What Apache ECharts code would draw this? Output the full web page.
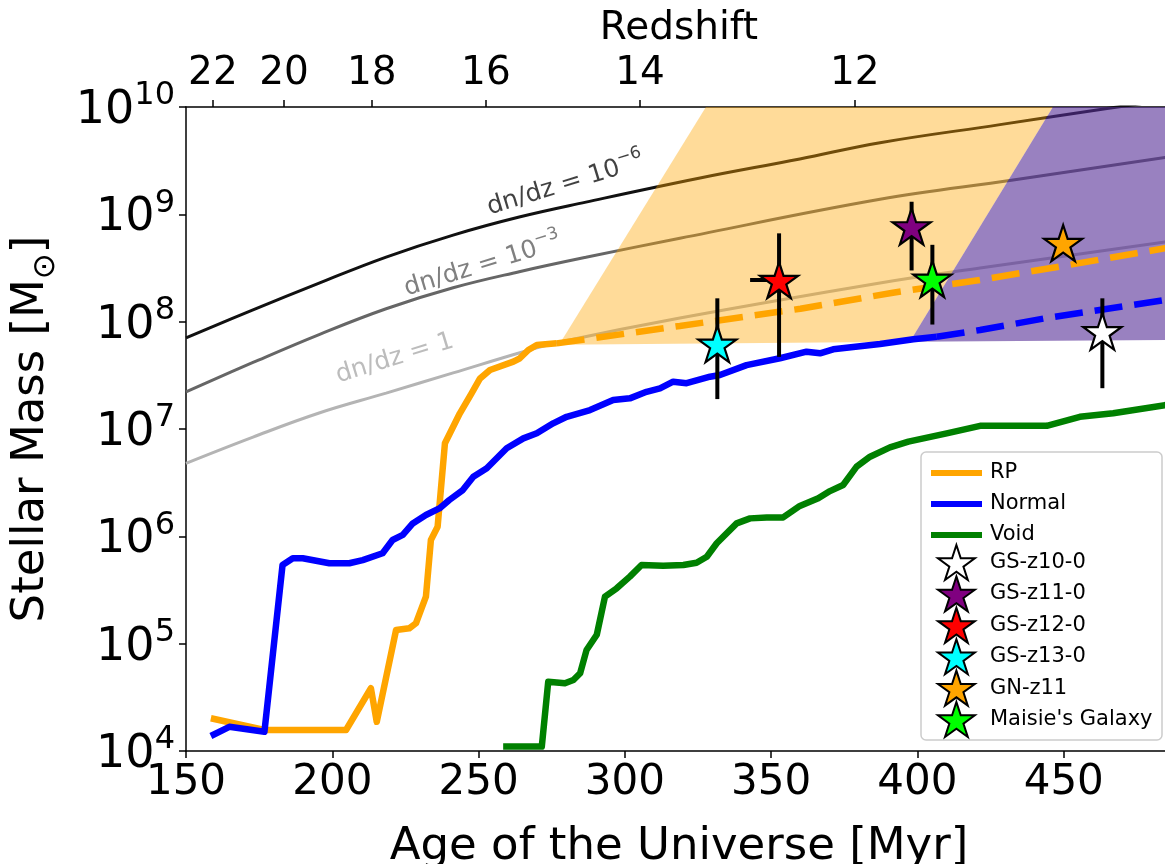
<!DOCTYPE html>
<html><head><meta charset="utf-8">
<script src="https://cdn.jsdelivr.net/npm/echarts@6/dist/echarts.min.js"></script>
<style>html,body{margin:0;padding:0;background:#fff}#c{width:1165px;height:864px}</style>
</head><body><div id="c"></div>
<script>
// ---- axis ticks ----
const ageTicks = [150, 200, 250, 300, 350, 400, 450];
const redshiftTicks = [22, 20, 18, 16, 14, 12];
const redshiftAges = [159.2, 183.5, 213.5, 252.5, 305.2, 378.6];

// ---- dn/dz curves ----
const dndz6Age  = [150, 172.9, 195.5, 218.4, 241.3, 263.9, 286.7, 325.7, 359.8, 387.2, 428.2, 464.8, 500];
const dndz6Mass = [7.05e7, 1.29e8, 2.29e8, 4.0e8, 6.41e8, 9.44e8, 1.30e9, 2.18e9, 3.28e9, 4.65e9, 6.85e9, 9.7e9, 1.32e10];
const dndz3Age  = [150, 172.9, 195.5, 218.4, 241.3, 263.9, 286.7, 318.8, 387.2, 432.7, 484.6, 500];
const dndz3Mass = [2.22e7, 4.17e7, 7.59e7, 1.32e8, 2.07e8, 2.92e8, 3.98e8, 5.98e8, 1.38e9, 2.09e9, 3.39e9, 3.89e9];
const dndz1Age  = [150, 172.9, 195.5, 218.4, 241.3, 265.3, 277.8, 318.8, 387.2, 421.4, 484.6, 500];
const dndz1Mass = [4.79e6, 8.41e6, 1.41e7, 2.16e7, 3.33e7, 5.25e7, 6.46e7, 1.08e8, 2.29e8, 3.16e8, 5.52e8, 6.31e8];

// ---- simulations ----
const rpAge  = [158.5, 176.8, 204.7, 213.2, 215.2, 221.8, 226.3, 228.6, 232.0, 233.7, 236.0, 238.5, 240.2, 243.6, 247.6, 250.5, 253.9, 261.9, 264.1, 267.0, 269.9, 276.7];
const rpMass = [2.02e4, 1.57e4, 1.57e4, 3.84e4, 1.87e4, 1.34e5, 1.39e5, 1.55e5, 2.74e5, 9.25e5, 1.23e6, 7.36e6, 9.12e6, 1.40e7, 2.15e7, 2.96e7, 3.55e7, 4.24e7, 4.56e7, 5.45e7, 6.07e7, 6.28e7];
const rpExtAge  = [276.7, 318.8, 360, 391.6, 421.4, 450, 484.6, 500];
const rpExtMass = [6.28e7, 9.12e7, 1.32e8, 1.86e8, 2.45e8, 3.31e8, 4.83e8, 5.62e8];

const normalAge  = [158.5, 164.8, 176.8, 183.0, 186.5, 189.9, 199.0, 205.8, 210.4, 217.2, 220.6, 224.1, 227.5, 232.0, 236.6, 240.0, 244.6, 248.2, 252.8, 259.6, 265.3, 269.9, 275.5, 280.1, 288.1, 296.0, 301.7, 307.4, 312.0, 316.5, 321.1, 329.1, 332.5, 341.6, 353.0, 362.1, 366.7, 371.2, 387.2, 398.6, 406.6];
const normalMass = [1.38e4, 1.68e4, 1.51e4, 5.41e5, 6.24e5, 6.24e5, 5.61e5, 5.61e5, 6.01e5, 6.95e5, 9.25e5, 1.03e6, 1.32e6, 1.58e6, 1.82e6, 2.18e6, 2.70e6, 3.59e6, 4.31e6, 6.61e6, 8.18e6, 9.12e6, 1.13e7, 1.30e7, 1.50e7, 1.86e7, 1.93e7, 2.22e7, 2.39e7, 2.76e7, 2.67e7, 3.07e7, 3.18e7, 3.94e7, 4.56e7, 5.25e7, 5.07e7, 5.53e7, 6.19e7, 6.85e7, 7.24e7];
const normalExtAge  = [406.6, 421.4, 444.1, 484.6, 500];
const normalExtMass = [7.24e7, 8.36e7, 1.08e8, 1.59e8, 1.86e8];

const voidAge  = [258.4, 271.6, 273.8, 279.5, 282.4, 284.7, 286.9, 290.4, 293.2, 297.2, 301.7, 305.7, 313.1, 320.0, 324.5, 328.0, 331.4, 338.2, 342.8, 348.5, 354.1, 359.8, 366.1, 370.1, 374.6, 379.2, 383.8, 390.6, 396.9, 410.0, 421.4, 444.2, 455.5, 466.9, 484.6, 500];
const voidMass = [1.1e4, 1.1e4, 4.42e4, 4.27e4, 4.58e4, 5.30e4, 8.73e4, 1.21e5, 2.74e5, 3.28e5, 4.21e5, 5.41e5, 5.32e5, 5.41e5, 5.68e5, 6.46e5, 8.61e5, 1.32e6, 1.47e6, 1.50e6, 1.50e6, 1.92e6, 2.26e6, 2.64e6, 3.01e6, 4.46e6, 5.52e6, 6.75e6, 7.62e6, 9.1e6, 1.07e7, 1.07e7, 1.30e7, 1.40e7, 1.67e7, 1.86e7];

// ---- shaded regions (corner points) ----
const orangeRegionAge  = [277.5, 327.7, 446.3, 397.4];
const orangeRegionMass = [6.1e7, 1e10, 1e10, 6.5e7];
const purpleRegionAge  = [397.4, 446.3, 500, 500];
const purpleRegionMass = [6.5e7, 1e10, 1e10, 6.8e7];

// ---- observed galaxies ----
const galaxyNames  = ['GS-z10-0', 'GS-z11-0', 'GS-z12-0', 'GS-z13-0', 'GN-z11', "Maisie's Galaxy"];
const galaxyColors = ['#ffffff', '#800080', '#ff0000', '#00ffff', '#ffa500', '#00ff00'];
const galaxyAge    = [463.2, 398.0, 352.7, 331.6, 449.8, 405.1];
const galaxyMass   = [8.1e7, 7.7e8, 2.44e8, 6.2e7, 5.4e8, 2.5e8];
const galaxyMassLo = [2.4e7, 3.0e8, 4.7e7, 1.9e7, null, 9.4e7];
const galaxyMassHi = [1.65e8, 1.31e9, 6.65e8, 1.65e8, null, 5.2e8];
const galaxyAgeLo  = [null, null, 342.8, null, null, null];
const galaxyAgeHi  = [null, null, 355.0, null, null, null];

// ---- curve labels ----
const curveLabelText  = ['−6', '−3', ''];
const curveLabelAge   = [279.5, 251.2, 221.1];
const curveLabelMass  = [2.0e9, 3.52e8, 4.79e7];
const curveLabelColor = ['#111111', '#606060', '#ababab'];

const FONT = 'DejaVu Sans';
const STAR = 'path://M0,-100 L22.45,-30.9 L95.1,-30.9 L36.33,11.8 L58.8,80.9 L0,38.2 L-58.8,80.9 L-36.33,11.8 L-95.1,-30.9 L-22.45,-30.9 Z';
const pairs = (xs, ys) => xs.map((x, i) => [x, ys[i]]);

const chart = echarts.init(document.getElementById('c'), null, {renderer: 'canvas'});

function polygonSeries(ages, masses, fill) {
  return {
    type: 'custom', silent: true, z: 2, clip: true,
    data: [[ages[0], masses[0]]],
    renderItem: (params, api) => ({
      type: 'polygon',
      shape: {points: ages.map((a, i) => api.coord([a, masses[i]]))},
      style: {fill: fill}
    })
  };
}

const series = [
  {type: 'line', name: 'dndz6', data: pairs(dndz6Age, dndz6Mass), showSymbol: false, smooth: 0.4, silent: true, z: 1,
   lineStyle: {color: '#111111', width: 3}},
  {type: 'line', name: 'dndz3', data: pairs(dndz3Age, dndz3Mass), showSymbol: false, smooth: 0.4, silent: true, z: 1,
   lineStyle: {color: '#666666', width: 3}},
  {type: 'line', name: 'dndz1', data: pairs(dndz1Age, dndz1Mass), showSymbol: false, smooth: 0.4, silent: true, z: 1,
   lineStyle: {color: '#b4b4b4', width: 3}},
  polygonSeries(orangeRegionAge, orangeRegionMass, 'rgba(255,165,0,0.4)'),
  polygonSeries(purpleRegionAge, purpleRegionMass, 'rgba(85,45,150,0.6)'),
  {type: 'line', name: 'RP', data: pairs(rpAge, rpMass), showSymbol: false, z: 3, color: '#ffa500',
   lineStyle: {color: '#ffa500', width: 6.5, join: 'round'}},
  {type: 'line', name: 'RPext', data: pairs(rpExtAge, rpExtMass), showSymbol: false, z: 3, color: '#ffa500',
   lineStyle: {color: '#ffa500', width: 6.5, type: [28, 12]}},
  {type: 'line', name: 'Normal', data: pairs(normalAge, normalMass), showSymbol: false, z: 3, color: '#0000ff',
   lineStyle: {color: '#0000ff', width: 6.5, join: 'round'}},
  {type: 'line', name: 'NormalExt', data: pairs(normalExtAge, normalExtMass), showSymbol: false, z: 3, color: '#0000ff',
   lineStyle: {color: '#0000ff', width: 6.5, type: [28, 12]}},
  {type: 'line', name: 'Void', data: pairs(voidAge, voidMass), showSymbol: false, z: 3, color: '#008000',
   lineStyle: {color: '#008000', width: 6.5, join: 'round'}},
  {type: 'custom', name: 'errorbars', silent: true, z: 4,
   data: galaxyAge.map((a, i) => [a, galaxyMass[i]]),
   renderItem: (params, api) => {
     const i = params.dataIndex;
     const children = [];
     if (galaxyMassLo[i] != null) {
       const p1 = api.coord([galaxyAge[i], galaxyMassLo[i]]);
       const p2 = api.coord([galaxyAge[i], galaxyMassHi[i]]);
       children.push({type: 'line', shape: {x1: p1[0], y1: p1[1], x2: p2[0], y2: p2[1]}, style: {stroke: '#000', lineWidth: 4}});
     }
     if (galaxyAgeLo[i] != null) {
       const p1 = api.coord([galaxyAgeLo[i], galaxyMass[i]]);
       const p2 = api.coord([galaxyAgeHi[i], galaxyMass[i]]);
       children.push({type: 'line', shape: {x1: p1[0], y1: p1[1], x2: p2[0], y2: p2[1]}, style: {stroke: '#000', lineWidth: 4}});
     }
     return {type: 'group', children: children};
   }},
  ...galaxyNames.map((n, i) => ({
    type: 'scatter', name: n, z: 5,
    data: [[galaxyAge[i], galaxyMass[i]]],
    symbol: STAR, symbolSize: 38, symbolKeepAspect: true,
    itemStyle: {color: galaxyColors[i], borderColor: '#000', borderWidth: 2.2, opacity: 1}
  })),
  {type: 'scatter', name: 'curveLabels', silent: true, z: 6, symbolSize: 0,
   data: curveLabelAge.map((a, i) => ({
     value: [a, curveLabelMass[i]],
     label: {
       show: true, position: 'inside', rotate: 17,
       formatter: curveLabelText[i] ? '{t|dn/dz = 10}{s|' + curveLabelText[i] + '}' : '{t|dn/dz = 1}',
       rich: {
         t: {fontSize: 25, fontFamily: FONT, color: curveLabelColor[i], lineHeight: 30, verticalAlign: 'bottom'},
         s: {fontSize: 17, fontFamily: FONT, color: curveLabelColor[i], lineHeight: 17, verticalAlign: 'top'}
       }
     }
   }))}
];

const axisLine = {show: true, lineStyle: {color: '#000', width: 1.5}};
const axisTick = {show: true, length: 7, lineStyle: {color: '#000', width: 1.5}};

const option = {
  backgroundColor: '#ffffff',
  animation: false,
  textStyle: {fontFamily: FONT},
  grid: {left: 186, top: 107, width: 986, height: 644, containLabel: false, outerBoundsMode: 'none'},
  xAxis: [
    {type: 'value', position: 'bottom', min: 150, max: 487, interval: 50,
     axisLine: axisLine, axisTick: axisTick, splitLine: {show: false},
     axisLabel: {fontSize: 42, color: '#000', margin: 11, fontFamily: FONT, showMaxLabel: false,
       formatter: v => (ageTicks.indexOf(v) >= 0 ? String(v) : '')},
     name: 'Age of the Universe [Myr]', nameLocation: 'middle', nameGap: 74,
     nameTextStyle: {fontSize: 45, color: '#000', fontFamily: FONT}},
    {type: 'value', position: 'top', min: 150, max: 487,
     axisLine: axisLine, splitLine: {show: false},
     axisTick: {show: true, length: 7, lineStyle: {color: '#000', width: 1.5}, customValues: redshiftAges},
     axisLabel: {fontSize: 39, color: '#000', margin: 14, fontFamily: FONT, customValues: redshiftAges,
       formatter: v => {
         const i = redshiftAges.findIndex(a => Math.abs(a - v) < 1e-6);
         return i >= 0 ? String(redshiftTicks[i]) : '';
       }},
     name: 'Redshift', nameLocation: 'middle', nameGap: 59,
     nameTextStyle: {fontSize: 39, color: '#000', fontFamily: FONT}}
  ],
  yAxis: {
    type: 'log', logBase: 10, min: 1e4, max: 1e10, splitNumber: 6,
    axisLine: axisLine, axisTick: axisTick, splitLine: {show: false}, minorTick: {show: false},
    axisLabel: {
      margin: 11, color: '#000',
      formatter: v => '{b|10}{s|' + Math.round(Math.log10(v)) + '}',
      rich: {
        b: {fontSize: 46, fontFamily: FONT, color: '#000', lineHeight: 54, verticalAlign: 'bottom'},
        s: {fontSize: 32, fontFamily: FONT, color: '#000', lineHeight: 32, verticalAlign: 'top'}
      }
    },
    name: '{t|Stellar Mass [M}{u|⊙}{t|]}', nameLocation: 'middle', nameGap: 125,
    nameTextStyle: {
      fontSize: 45, color: '#000', fontFamily: FONT,
      rich: {
        t: {fontSize: 45, fontFamily: FONT, color: '#000', lineHeight: 52, verticalAlign: 'top'},
        u: {fontSize: 31, fontFamily: FONT, color: '#000', lineHeight: 31, verticalAlign: 'bottom', padding: [0, 0, 0, 0]}
      }
    }
  },
  legend: [
    {orient: 'vertical', left: 926, top: 455.5, itemWidth: 51, itemHeight: 6, itemGap: 6, z: 20,
     data: [{name: 'RP', icon: 'rect'}, {name: 'Normal', icon: 'rect'}, {name: 'Void', icon: 'rect'}],
     textStyle: {fontSize: 21, fontFamily: FONT, color: '#000', lineHeight: 25, padding: [0, 0, 0, 3]},
     selectedMode: false},
    {orient: 'vertical', left: 932, top: 539, itemWidth: 37, itemHeight: 35, itemGap: -5.6, z: 20,
     data: galaxyNames,
     textStyle: {fontSize: 21, fontFamily: FONT, color: '#000', lineHeight: 25, padding: [0, 0, 0, 10]},
     selectedMode: false}
  ],
  graphic: [
    {type: 'rect', z: 19, shape: {x: 921, y: 452, width: 241, height: 288, r: 5},
     style: {fill: 'rgba(255,255,255,0.8)', stroke: '#cccccc', lineWidth: 1.5}}
  ],
  series: series
};
chart.setOption(option);
</script>
</body></html>
